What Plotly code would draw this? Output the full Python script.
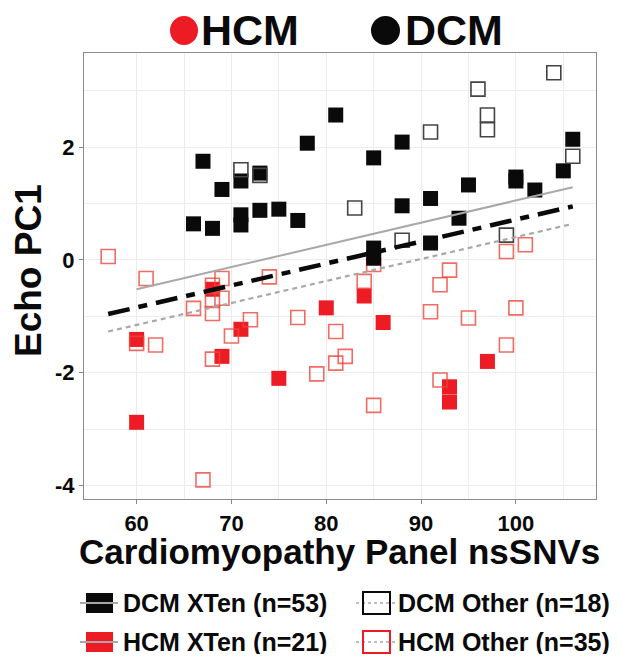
import plotly.graph_objects as go

# ---------------- data ----------------
dcm_xten_x = [67, 71, 73, 69, 66, 68, 71, 71, 73, 81, 78, 85, 88, 75, 77, 88, 91, 85, 85, 91, 106, 105, 100, 100, 102, 95, 94]
dcm_xten_y = [1.75, 1.40, 1.54, 1.25, 0.64, 0.56, 0.80, 0.62, 0.88, 2.57, 2.07, 1.81, 2.09, 0.90, 0.70, 0.96, 1.09, 0.21, 0.03, 0.30, 2.14, 1.58, 1.47, 1.40, 1.24, 1.33, 0.74]

dcm_other_x = [71, 73, 91, 83, 88, 104, 96, 97, 97, 106, 99]
dcm_other_y = [1.60, 1.50, 2.27, 0.92, 0.35, 3.32, 3.03, 2.57, 2.31, 1.84, 0.44]

hcm_xten_x = [68, 71, 60, 69, 60, 84, 80, 86, 75, 97, 93, 93]
hcm_xten_y = [-0.52, -1.23, -1.41, -1.71, -2.88, -0.64, -0.85, -1.11, -2.10, -1.80, -2.25, -2.52]

hcm_other_x = [57, 61, 69, 68, 68, 68, 69, 66, 72, 70, 60, 62, 68, 67, 74, 84, 77, 81, 82, 81, 79, 85,
               92, 93, 92, 91, 95, 100, 99, 99, 101, 85]
hcm_other_y = [0.06, -0.33, -0.33, -0.45, -0.72, -0.95, -0.68, -0.86, -1.06, -1.35, -1.48, -1.51, -1.76,
               -3.90, -0.30, -0.38, -1.02, -1.27, -1.71, -1.83, -2.02, -2.58, -2.13, -0.18, -0.44, -0.92,
               -1.03, -0.85, -1.51, 0.15, 0.27, -0.08]

# fitted regression lines (end points)
fit_xten_x = [60, 106]
fit_xten_y = [-0.52, 1.29]
fit_other_x = [57, 106]
fit_other_y = [-1.27, 0.64]
fit_all_x = [57, 106]
fit_all_y = [-0.96, 0.95]

x_ticks = [60, 70, 80, 90, 100]
y_ticks = [-4, -2, 0, 2]

legend_labels = ["DCM XTen (n=53)", "HCM XTen (n=21)", "DCM Other (n=18)", "HCM Other (n=35)"]
top_labels = ["HCM", "DCM"]

RED = "#ed1c24"
BLACK = "#0a0a0a"
GREY = "#a8a8a8"
FONT = "Liberation Sans, Arial, sans-serif"

fig = go.Figure()

fig.add_trace(go.Scatter(x=hcm_xten_x, y=hcm_xten_y, mode="markers",
                         marker=dict(symbol="square", size=15, color=RED, line=dict(width=0)),
                         name=legend_labels[1]))
fig.add_trace(go.Scatter(x=hcm_other_x, y=hcm_other_y, mode="markers",
                         marker=dict(symbol="square-open", size=14, color="rgba(236,70,60,0.8)",
                                     line=dict(width=1.6)),
                         name=legend_labels[3]))
fig.add_trace(go.Scatter(x=dcm_xten_x, y=dcm_xten_y, mode="markers",
                         marker=dict(symbol="square", size=15, color=BLACK, line=dict(width=0)),
                         name=legend_labels[0]))
fig.add_trace(go.Scatter(x=dcm_other_x, y=dcm_other_y, mode="markers",
                         marker=dict(symbol="square-open", size=14, color="#444444",
                                     line=dict(width=1.6)),
                         name=legend_labels[2]))

fig.add_trace(go.Scatter(x=fit_xten_x, y=fit_xten_y, mode="lines",
                         line=dict(color=GREY, width=2)))
fig.add_trace(go.Scatter(x=fit_other_x, y=fit_other_y, mode="lines",
                         line=dict(color=GREY, width=2.2, dash="5px,4px")))
fig.add_trace(go.Scatter(x=fit_all_x, y=fit_all_y, mode="lines",
                         line=dict(color=BLACK, width=4.5, dash="22px,9px,9px,9px")))

# page has an 8px body margin: figure coords = page coords - 8
W, H = 617, 646
OFF = 8
# plot area in page pixels
L, R, T, B = 84, 596, 53, 499
def PX(px):
    return (px - L) / (R - L)
def PY(py):
    return (B - py) / (B - T)

shapes = []
annotations = []

# top legend
shapes.append(dict(type="circle", xref="paper", yref="paper", x0=PX(170), x1=PX(198),
                   y0=PY(45), y1=PY(16), fillcolor=RED, line=dict(width=0)))
shapes.append(dict(type="circle", xref="paper", yref="paper", x0=PX(371), x1=PX(400),
                   y0=PY(45), y1=PY(16), fillcolor=BLACK, line=dict(width=0)))
annotations.append(dict(text=top_labels[0], xref="paper", yref="paper", x=PX(199), y=PY(30),
                        xanchor="left", yanchor="middle", showarrow=False,
                        font=dict(family=FONT, size=43, color=BLACK, weight="bold")))
annotations.append(dict(text=top_labels[1], xref="paper", yref="paper", x=PX(403), y=PY(30),
                        xanchor="left", yanchor="middle", showarrow=False,
                        font=dict(family=FONT, size=43, color=BLACK, weight="bold")))

# bottom legend
rows = [603, 642]
for row, col in zip(rows, [BLACK, RED]):
    shapes.append(dict(type="rect", xref="paper", yref="paper", x0=PX(86), x1=PX(113),
                       y0=PY(row + 10), y1=PY(row - 10), fillcolor=col, line=dict(width=0)))
    shapes.append(dict(type="line", xref="paper", yref="paper", x0=PX(80), x1=PX(118),
                       y0=PY(row), y1=PY(row), line=dict(color=GREY, width=2)))
for row, col in zip(rows, [BLACK, RED]):
    shapes.append(dict(type="line", xref="paper", yref="paper", x0=PX(356), x1=PX(395),
                       y0=PY(row), y1=PY(row), line=dict(color=GREY, width=1.5, dash="3px,3px")))
    shapes.append(dict(type="rect", xref="paper", yref="paper", x0=PX(363), x1=PX(390),
                       y0=PY(row + 11), y1=PY(row - 11), line=dict(color=col, width=2)))

for i, lab in enumerate(legend_labels):
    xs = 121 if i < 2 else 396
    row = rows[i % 2]
    annotations.append(dict(text=lab, xref="paper", yref="paper", x=PX(xs), y=PY(row),
                            xanchor="left", yanchor="middle", showarrow=False,
                            font=dict(family=FONT, size=25, color=BLACK, weight="bold")))

# axis titles
annotations.append(dict(text="Cardiomyopathy Panel nsSNVs", xref="paper", yref="paper",
                        x=PX(339), y=PY(551), xanchor="center", yanchor="middle", showarrow=False,
                        font=dict(family=FONT, size=35, color=BLACK, weight="bold")))
annotations.append(dict(text="Echo PC1", xref="paper", yref="paper", textangle=-90,
                        x=PX(28), y=PY(271), xanchor="center", yanchor="middle", showarrow=False,
                        font=dict(family=FONT, size=37, color=BLACK, weight="bold")))

grid = "#ececec"
fig.update_layout(
    width=W, height=H,
    margin=dict(l=L - OFF, r=W - (R - OFF), t=T - OFF, b=H - (B - OFF)),
    paper_bgcolor="white", plot_bgcolor="white",
    showlegend=False,
    shapes=shapes, annotations=annotations,
    xaxis=dict(range=[54.45, 108.45], tickvals=x_ticks, ticktext=[str(v) for v in x_ticks],
               showgrid=True, gridcolor=grid, gridwidth=1.2,
               minor=dict(tickvals=[65, 75, 85, 95, 105], showgrid=True, gridcolor=grid, gridwidth=1),
               ticks="outside", ticklen=4, tickcolor="#888888", tickwidth=1,
               showline=True, mirror=True, linecolor="#8a8a8a", linewidth=1.2,
               zeroline=False,
               tickfont=dict(family=FONT, size=22, color=BLACK, weight="bold")),
    yaxis=dict(range=[-4.24, 3.67], tickvals=y_ticks, ticktext=[str(v) for v in y_ticks],
               showgrid=True, gridcolor=grid, gridwidth=1.2,
               minor=dict(tickvals=[-3, -1, 1, 3], showgrid=True, gridcolor=grid, gridwidth=1),
               ticks="outside", ticklen=4, tickcolor="#888888", tickwidth=1,
               showline=True, mirror=True, linecolor="#8a8a8a", linewidth=1.2,
               zeroline=False,
               tickfont=dict(family=FONT, size=22, color=BLACK, weight="bold")),
)

fig.write_html("out.html")
